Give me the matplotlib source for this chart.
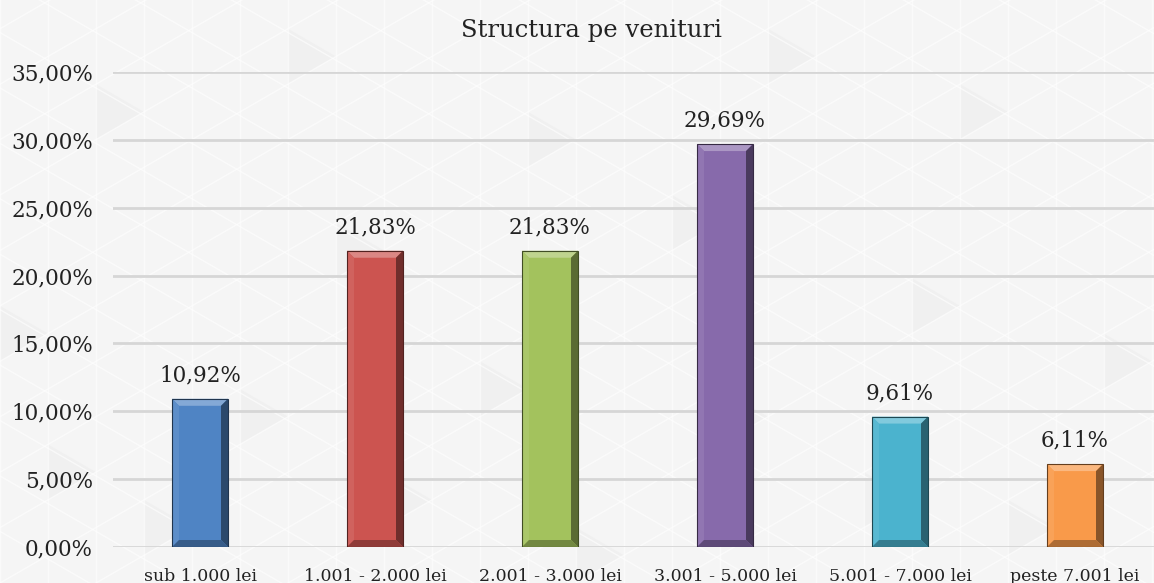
import numpy as np
import matplotlib
matplotlib.use("Agg")
import matplotlib.pyplot as plt
from matplotlib.patches import Polygon

categories = ["sub 1.000 lei", "1.001 - 2.000 lei", "2.001 - 3.000 lei",
              "3.001 - 5.000 lei", "5.001 - 7.000 lei", "peste 7.001 lei"]
values = [10.92, 21.83, 21.83, 29.69, 9.61, 6.11]
colors = ["#4F84C4", "#CC5450", "#A3C25D", "#876AAB", "#4BB3CE", "#F99A4A"]
yticks = [0, 5, 10, 15, 20, 25, 30, 35]
title = "Structura pe venituri"

W, H = 1154, 583
fig = plt.figure(figsize=(W / 100, H / 100), dpi=100)
fig.patch.set_facecolor("#f5f5f5")

# background triangle pattern
bg = fig.add_axes([0, 0, 1, 1], zorder=-10)
bg.set_xlim(0, W)
bg.set_ylim(0, H)
bg.axis("off")
d = 48.0
c30 = np.cos(np.radians(30))
rng_tri = [(1, 1), (3, 0), (5, 2), (8, 1), (12, 0), (15, 2), (18, 1), (21, 0), (0, 4), (7, 5),
           (10, 3), (14, 6), (19, 4), (23, 3), (2, 8), (6, 9), (11, 7), (16, 9), (20, 8)]
for i, j in rng_tri:
    x0 = i * d
    yb = j * d / c30 + (i % 2) * d / c30 / 2
    tri = Polygon([[x0, yb], [x0, yb + d / c30], [x0 + d, yb + d / c30 / 2]],
                  closed=True, facecolor="#ededed", edgecolor="none", alpha=0.6)
    bg.add_patch(tri)
for k in range(-5, 30):
    bg.axvline(k * d, color="white", lw=1.0, alpha=0.6)
for k in range(-40, 40):
    off = k * d / c30
    xs = np.array([-100, W + 100])
    bg.plot(xs, off + np.tan(np.radians(30)) * xs, color="white", lw=1.0, alpha=0.6)
    bg.plot(xs, off + H - np.tan(np.radians(30)) * xs + 300, color="white", lw=1.0, alpha=0.6)

font = "DejaVu Serif"
ax = fig.add_axes([112.5 / W, 36 / H, 1050 / W, 475 / H])
ax.set_facecolor("none")
x = np.arange(len(categories))
ax.set_xlim(-0.5, len(categories) - 0.5)
ax.set_ylim(0, 35)
ax.set_yticks(yticks)
ax.set_yticklabels([f"{v:.2f}%".replace(".", ",") for v in yticks],
                   fontsize=15.5, family=font, color="#222222")
ax.set_xticks(x)
ax.set_xticklabels(categories, fontsize=12.5, family=font, color="#222222")
ax.tick_params(length=0, pad=14)
ax.tick_params(axis="x", pad=15)
for s in ax.spines.values():
    s.set_visible(False)
ax.grid(axis="y", color="#d6d6d6", lw=2)
ax.set_axisbelow(True)

bw = 0.32
bars = ax.bar(x, values, width=bw, color=colors, zorder=2)

bx = 7 / (1050 / len(categories))
by = 7 / (475 / 35)


def shade(c, f):
    rgb = np.array(matplotlib.colors.to_rgb(c))
    if f > 0:
        return tuple(rgb + (1 - rgb) * f)
    return tuple(rgb * (1 + f))


for xi, v, c in zip(x, values, colors):
    l, r = xi - bw / 2, xi + bw / 2
    t, b = v, 0
    polys = [
        ([[l, t], [r, t], [r - bx, t - by], [l + bx, t - by]], shade(c, 0.3)),
        ([[l, t], [l + bx, t - by], [l + bx, b + by], [l, b]], shade(c, 0.08)),
        ([[r, t], [r, b], [r - bx, b + by], [r - bx, t - by]], shade(c, -0.45)),
        ([[l, b], [l + bx, b + by], [r - bx, b + by], [r, b]], shade(c, -0.3)),
    ]
    for pts, fc in polys:
        ax.add_patch(Polygon(pts, closed=True, facecolor=fc, edgecolor="none", zorder=3))
    ax.add_patch(Polygon([[l, t], [r, t], [r, b], [l, b]], closed=True, fill=False,
                         edgecolor=shade(c, -0.6), lw=0.8, zorder=4))
    ax.annotate(f"{v:.2f}%".replace(".", ","), (xi, v), xytext=(0, 9),
                textcoords="offset points", ha="center", va="bottom",
                fontsize=15.5, family=font, color="#222222", zorder=5)

fig.text(591 / W, 1 - 30 / H, title, ha="center", va="center",
         fontsize=17.5, family=font, color="#222222")

fig.savefig("out.png", dpi=100, facecolor=fig.get_facecolor())
